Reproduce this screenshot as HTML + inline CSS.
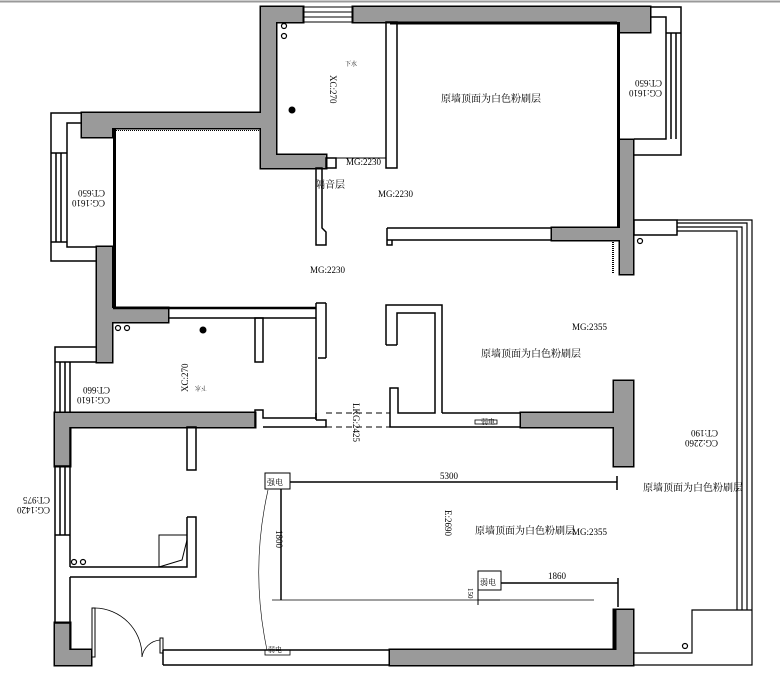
<!DOCTYPE html>
<html><head><meta charset="utf-8"><style>
html,body{margin:0;padding:0;background:#fff;}
svg{display:block;}
text{font-family:"Liberation Serif","Noto Serif CJK SC",serif;fill:#000;}
</style></head><body>
<svg width="780" height="679" viewBox="0 0 780 679" xmlns="http://www.w3.org/2000/svg">
<defs>
<g id="gw">
<rect x="261" y="7" width="42" height="15"/>
<rect x="353" y="7" width="297" height="15"/>
<rect x="620" y="22" width="30" height="10"/>
<rect x="261" y="7" width="15" height="161"/>
<rect x="261" y="155" width="65" height="13"/>
<rect x="82" y="113" width="194" height="15"/>
<rect x="82" y="113" width="30" height="24"/>
<rect x="97" y="247" width="15" height="115"/>
<rect x="97" y="308" width="71" height="14"/>
<rect x="620" y="140" width="13" height="134"/>
<rect x="552" y="228" width="81" height="12"/>
<rect x="55" y="413" width="200" height="14"/>
<rect x="55" y="413" width="15" height="53"/>
<rect x="55" y="623" width="15" height="42"/>
<rect x="55" y="650" width="36" height="15"/>
<rect x="390" y="650" width="243" height="15"/>
<rect x="614" y="610" width="19" height="55"/>
<rect x="614" y="381" width="19" height="85"/>
<rect x="521" y="413" width="93" height="14"/>
</g>
</defs>
<line x1="0" y1="1.5" x2="780" y2="1.5" stroke="#999" stroke-width="2"/>
<use href="#gw" fill="#9a9a9a" stroke="#000" stroke-width="3"/>
<use href="#gw" fill="#9a9a9a" stroke="none"/>
<g fill="none" stroke="#000" stroke-width="1.5">
<line x1="618.5" y1="22" x2="618.5" y2="228" stroke-width="3"/>
<line x1="390" y1="23" x2="617" y2="23" stroke-width="3"/>
<line x1="114.5" y1="128" x2="114.5" y2="308" stroke-width="3"/>
<line x1="113" y1="308" x2="316" y2="308" stroke-width="2.5"/>
<line x1="116" y1="130.5" x2="261" y2="130.5" stroke-width="1" stroke-dasharray="1 1"/>
<line x1="613" y1="240" x2="613" y2="274" stroke-width="2" stroke-dasharray="1 1"/>
<line x1="615" y1="610" x2="615" y2="650" stroke-width="3"/>
<rect x="303" y="7" width="50" height="15" stroke-width="1"/>
<line x1="303" y1="12" x2="353" y2="12" stroke-width="1"/><line x1="303" y1="17" x2="353" y2="17" stroke-width="1"/>
<rect x="386" y="22" width="11" height="146"/>
<path d="M650,7 H681 V155 H634 M650,17 H666 V139 H634 M671,33 V139 M676,33 V139 M666,33 H681"/>
<path d="M82,113 H51 V261 H97 M82,123 H67 V247 H97 M56,153 V242 M61,153 V242 M51,153 H67 M51,242 H67"/>
<path d="M97,347 H55 V413 M97,362 H70 V413 M60,362 V413 M65,362 V413 M55,362 H70"/>
<path d="M70,427 V466 M55,466 V623 M70,466 V567 M70,577 V650 M60,466 V535 M65,466 V535 M55,535 H70 M55,466 H70 M55,623 H70"/>
<rect x="326" y="158" width="10" height="10"/>
<line x1="336" y1="158" x2="386" y2="158" stroke-width="1"/>
<path d="M316,168 V245 H326 V232 L322,228 V168 Z"/>
<path d="M387,228 H552 M387,240 H552 M387,228 V245 H392 V240"/>
<path d="M168,318 H316 M316,303 V420 M326,303 V358 M316,303 H326 M326,358 H318"/>
<rect x="255" y="318" width="8" height="44"/>
<path d="M255,427 V410 H263 V418 H316 V413 M263,427 H326 V420 H316"/>
<line x1="326" y1="413" x2="390" y2="413" stroke-width="1" stroke-dasharray="6 4"/>
<line x1="326" y1="427" x2="390" y2="427" stroke-width="1" stroke-dasharray="6 4"/>
<path d="M386,345 V305 H442 V413 M397,345 V313 H435 V413 H398 V388 H390 V427 H521 M386,345 H397 M442,413 H521"/>
<rect x="187" y="427" width="9" height="43"/>
<path d="M187,517 H196 V577 H70 M187,517 V567 H70"/>
<path d="M159,567 V535 H187 M159,567 L182,560 L187,540" stroke-width="1"/>
<rect x="92" y="608" width="3" height="49" stroke-width="1"/>
<path d="M95,608 A48,48 0 0 1 142,657" stroke-width="0.8"/>
<path d="M142,657 A20,20 0 0 1 160,640" stroke-width="0.8"/>
<rect x="160" y="638" width="3" height="15" stroke-width="1"/>
<path d="M163,650 H390 M163,665 H390 M163,650 V665"/>
<rect x="634" y="220" width="43" height="15"/>
<path d="M677,220 H752 V665 H633 M677,223 H747 V610 M677,227 H742 V610 M677,231 H737 V610 M634,653 H692 V610 H752" stroke-width="1.2"/>
<rect x="265" y="473" width="25" height="16" stroke-width="1"/>
<line x1="290" y1="482" x2="617" y2="482" stroke-width="1.5"/>
<line x1="617" y1="476" x2="617" y2="490" stroke-width="1.5"/>
<line x1="281" y1="489" x2="281" y2="600" stroke-width="1.5"/>
<line x1="272" y1="600" x2="594" y2="600" stroke-width="0.8"/>
<path d="M268,490 Q250,570 267,650" stroke-width="0.6"/>
<rect x="478" y="571" width="23" height="19" stroke-width="1"/>
<line x1="501" y1="583" x2="618" y2="583" stroke-width="1.5"/>
<line x1="618" y1="578" x2="618" y2="607" stroke-width="1.5"/>
<line x1="478" y1="590" x2="500" y2="590" stroke-width="1"/>
<line x1="478" y1="600" x2="500" y2="600" stroke-width="1"/>
<line x1="478" y1="585" x2="478" y2="605" stroke-width="1"/>
<rect x="265" y="650" width="25" height="5" stroke-width="0.8"/>
<rect x="475" y="420" width="22" height="4" stroke-width="0.8"/>
</g>
<g fill="none" stroke="#000" stroke-width="1.2">
<circle cx="284" cy="26" r="2.5"/><circle cx="284" cy="36" r="2.5"/>
<circle cx="118" cy="328" r="2.5"/><circle cx="127" cy="328" r="2.5"/>
<circle cx="74" cy="562" r="2.5"/><circle cx="83" cy="562" r="2.5"/>
<circle cx="640" cy="241" r="2.5"/><circle cx="685" cy="646" r="2.5"/>
</g>
<circle cx="292" cy="110" r="3.5"/><circle cx="203" cy="330" r="3.5"/>
<g font-size="9">
<text x="346" y="165">MG:2230</text>
<text x="378" y="197">MG:2230</text>
<text x="310" y="273">MG:2230</text>
<text x="572" y="330">MG:2355</text>
<text x="572" y="535">MG:2355</text>
<text x="440" y="479">5300</text>
<text x="548" y="579">1860</text>
<text x="345" y="66" font-size="6">下水</text>
<text x="193" y="390" font-size="6" transform="rotate(180 200 388)">下水</text>
<text transform="translate(330,75) rotate(90)">XC:270</text>
<text transform="translate(188,392) rotate(-90)">XC:270</text>
<text transform="translate(353,403) rotate(90)">LKG:2425</text>
<text transform="translate(445,510) rotate(90)">E:2690</text>
<text transform="translate(276,530) rotate(90)">1800</text>
<text transform="translate(468,588) rotate(90)" font-size="7">150</text>
<text transform="translate(105,200) rotate(180)">CG:1610</text>
<text transform="translate(105,190) rotate(180)">CT:650</text>
<text transform="translate(662,90) rotate(180)">CG:1610</text>
<text transform="translate(662,80) rotate(180)">CT:650</text>
<text transform="translate(110,397) rotate(180)">CG:1610</text>
<text transform="translate(110,387) rotate(180)">CT:660</text>
<text transform="translate(50,507) rotate(180)">CG:1420</text>
<text transform="translate(50,497) rotate(180)">CT:975</text>
<text transform="translate(718,440) rotate(180)">CG:2260</text>
<text transform="translate(718,430) rotate(180)">CT:190</text>
</g>
<g font-size="10">
<text x="441" y="102">原墙顶面为白色粉刷层</text>
<text x="481" y="357">原墙顶面为白色粉刷层</text>
<text x="475" y="534">原墙顶面为白色粉刷层</text>
<text x="643" y="491">原墙顶面为白色粉刷层</text>
<text x="315" y="188">隔音层</text>
<text x="267" y="485" font-size="8">强电</text>
<text x="480" y="585" font-size="8">弱电</text>
<text x="481" y="424" font-size="7">弱电</text>
<text x="268" y="652" font-size="7">弱电</text>
</g>
</svg>
</body></html>
